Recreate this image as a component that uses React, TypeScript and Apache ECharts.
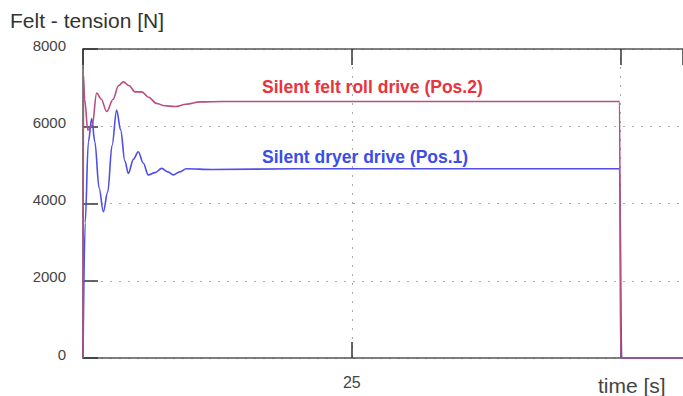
import React, { useEffect, useRef } from "react";
import * as echarts from "echarts";

const feltRollTime = [0, 0.05, 0.15, 0.45, 0.86, 1.27, 1.7, 2.2, 2.8, 3.3, 3.75, 4.3, 4.83, 5.46, 6.1, 6.85, 7.6, 8.55, 9.6, 10.9, 13, 16.4, 30, 49.9, 50.0, 56];
const feltRollTension = [0, 7300, 6700, 5900, 6030, 6860, 6700, 6380, 6700, 7050, 7150, 7050, 6890, 6890, 6750, 6590, 6530, 6510, 6570, 6630, 6640, 6640, 6640, 6640, 0, 0];

const dryerTime = [0, 0.2, 0.5, 0.81, 1.1, 1.5, 1.89, 2.3, 2.7, 3.13, 3.5, 3.9, 4.21, 4.7, 5.14, 5.6, 6.07, 6.7, 7.31, 7.9, 8.39, 9.0, 9.6, 12, 20, 49.9, 50.1, 56];
const dryerTension = [0, 3500, 5600, 6200, 5600, 4400, 3790, 4300, 5500, 6420, 5900, 5100, 4780, 5150, 5340, 5050, 4740, 4800, 4910, 4820, 4740, 4820, 4900, 4880, 4900, 4900, 0, 0];

const yTicks = [0, 2000, 4000, 6000, 8000];
const xTickLabels = [25];

const feltLabel = "Silent felt roll drive (Pos.2)";
const dryerLabel = "Silent dryer drive (Pos.1)";
const titleText = "Felt - tension [N]";
const xName = "time [s]";

export default function App() {
  const ref = useRef<HTMLDivElement>(null);
  useEffect(() => {
    if (!ref.current) return;
    const chart = echarts.init(ref.current, undefined, { renderer: "svg" });
    const font = "'Liberation Sans', Arial, sans-serif";
    const feltData = feltRollTime.map((t, i) => [t, feltRollTension[i]]);
    const dryerData = dryerTime.map((t, i) => [t, dryerTension[i]]);
    chart.setOption({
      animation: false,
      backgroundColor: "#fff",
      textStyle: { fontFamily: font },
      grid: { left: 83, top: 49, right: 0, height: 309, show: false },
      xAxis: [
        {
          type: "value",
          min: 0,
          max: 55.8,
          interval: 25,
          position: "bottom",
          axisLine: { show: true, lineStyle: { color: "#555", width: 1.5 } },
          axisTick: { show: true, inside: true, length: 16, lineStyle: { color: "#333", width: 1.5 } },
          axisLabel: {
            show: true,
            margin: 16,
            fontSize: 16,
            color: "#444",
            fontFamily: font,
            showMaxLabel: false,
            formatter: (v: number) => (xTickLabels.includes(v) ? String(v) : ""),
          },
          splitLine: { show: true, lineStyle: { color: "#aaa", type: [2, 7], width: 1 } },
        },
        {
          type: "value",
          min: 0,
          max: 55.8,
          interval: 25,
          position: "top",
          axisLine: { show: true, lineStyle: { color: "#555", width: 1.5 } },
          axisTick: { show: true, inside: true, length: 16, lineStyle: { color: "#333", width: 1.5 } },
          axisLabel: { show: false },
          splitLine: { show: false },
        },
      ],
      yAxis: {
        type: "value",
        min: 0,
        max: 8000,
        interval: 2000,
        axisLine: { show: true, lineStyle: { color: "#555", width: 1.5 } },
        axisTick: { show: true, inside: true, length: 15, lineStyle: { color: "#333", width: 1.5 } },
        axisLabel: {
          margin: 17,
          color: "#444",
          fontFamily: font,
          formatter: (v: number) => (yTicks.includes(v) ? "{a|" + v + "}" : ""),
          rich: {
            a: { fontSize: 15, color: "#444", fontFamily: font, padding: [0, 0, 8, 0] },
          },
        },
        splitLine: { show: true, lineStyle: { color: "#aaa", type: [2, 7], width: 1 } },
      },
      series: [
        {
          type: "line",
          data: dryerData,
          showSymbol: false,
          smooth: 0.35,
          smoothMonotone: "x",
          lineStyle: { color: "#4f4fe8", width: 1.6 },
          z: 2,
        },
        {
          type: "line",
          data: feltData,
          showSymbol: false,
          smooth: 0.35,
          smoothMonotone: "x",
          lineStyle: { color: "#b84e82", width: 1.6 },
          z: 3,
        },
      ],
      graphic: [
        {
          type: "text",
          left: 10,
          top: 10,
          style: { text: titleText, fontSize: 21, fill: "#333", fontFamily: font },
        },
        {
          type: "text",
          left: 262,
          top: 78,
          style: { text: feltLabel, fontSize: 17.5, fontWeight: "bold", fill: "#e8343c", fontFamily: font },
        },
        {
          type: "text",
          left: 262,
          top: 148,
          style: { text: dryerLabel, fontSize: 17.5, fontWeight: "bold", fill: "#3a4ee8", fontFamily: font },
        },
        {
          type: "text",
          left: 598,
          top: 375,
          style: { text: xName, fontSize: 21, fill: "#444", fontFamily: font },
        },
      ],
    });
    return () => chart.dispose();
  }, []);
  return <div ref={ref} style={{ width: 683, height: 396, position: "fixed", left: 0, top: 0 }} />;
}
